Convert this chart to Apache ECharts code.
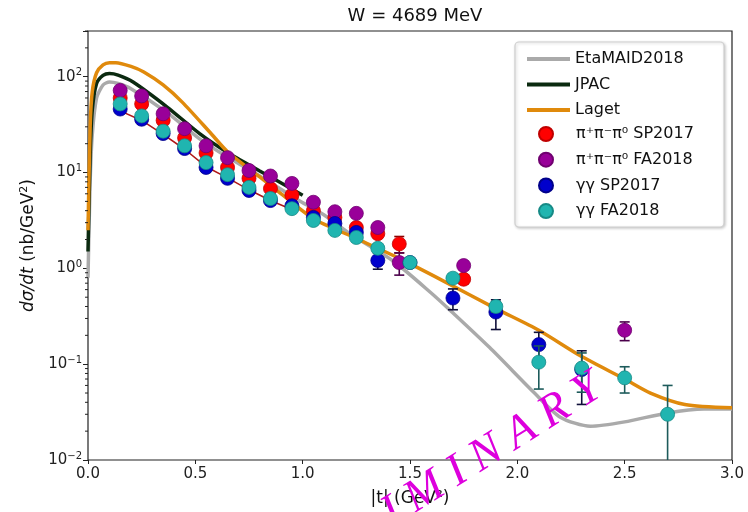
<!DOCTYPE html>
<html>
<head>
<meta charset="utf-8">
<script src="https://cdn.jsdelivr.net/npm/echarts@6/dist/echarts.min.js"></script>
<style>html,body{margin:0;padding:0;background:#fff}#chart{width:748px;height:512px}</style>
</head>
<body>
<div id="chart"></div>
<script>
// model curves
var maidT = [0, 0.01, 0.02, 0.04, 0.07, 0.1, 0.14, 0.2, 0.37, 0.52, 0.65, 0.8, 0.97, 1.1, 1.22, 1.42, 1.6, 1.69, 1.87, 2.08, 2.2, 2.34, 2.5, 2.7, 2.87, 3.0];
var maidV = [0.8, 8, 25, 60, 82, 88, 85, 75, 42, 22.5, 14.5, 9.2, 5.3, 3.6, 2.3, 1.2, 0.55, 0.36, 0.15, 0.05, 0.028, 0.0225, 0.025, 0.031, 0.034, 0.034];
var jpacT = [0, 0.01, 0.02, 0.04, 0.07, 0.1, 0.14, 0.21, 0.37, 0.52, 0.65, 0.8, 1.0];
var jpacV = [1.5, 15, 45, 85, 103, 108, 104, 88, 48, 25.5, 16.2, 10.4, 5.8];
var lagetT = [0, 0.01, 0.02, 0.04, 0.07, 0.1, 0.13, 0.2, 0.26, 0.35, 0.44, 0.57, 0.65, 0.8, 0.9, 1.05, 1.25, 1.45, 1.65, 1.9, 2.1, 2.3, 2.5, 2.62, 2.78, 3.0];
var lagetV = [2.5, 30, 70, 110, 133, 140, 140, 128, 112, 82, 54, 26, 16.5, 9, 6, 3.3, 2.05, 1.27, 0.75, 0.38, 0.226, 0.12, 0.07, 0.05, 0.038, 0.035];

// thin red line under the low points
var redLineT = [0.15, 0.25, 0.35, 0.45, 0.55, 0.65, 0.75, 0.85, 0.93];
var redLineV = [44, 35, 25, 17.5, 11.5, 8.8, 6.6, 5.1, 4.3];

// data points (t, value, error)
var piSPt = [0.15, 0.25, 0.35, 0.45, 0.55, 0.65, 0.75, 0.85, 0.95, 1.05, 1.15, 1.25, 1.35, 1.45, 1.75];
var piSPv = [60, 52, 35, 23, 16, 11.3, 8.7, 6.8, 5.8, 4.0, 3.4, 2.67, 2.3, 1.8, 0.77];
var piSPe = [3, 2.5, 1.8, 1.2, 0.8, 0.6, 0.45, 0.35, 0.3, 0.25, 0.22, 0.2, 0.2, 0.35, 0.08];

var piFAt = [0.15, 0.25, 0.35, 0.45, 0.55, 0.65, 0.75, 0.85, 0.95, 1.05, 1.15, 1.25, 1.35, 1.45, 1.75, 2.5];
var piFAv = [72, 63, 41, 28.7, 19, 14.3, 10.5, 9.2, 7.7, 4.9, 3.9, 3.75, 2.67, 1.15, 1.07, 0.226];
var piFAe = [3, 2.5, 1.8, 1.2, 0.9, 0.7, 0.5, 0.45, 0.4, 0.3, 0.25, 0.25, 0.2, 0.3, 0.1, 0.05];

var ggSPt = [0.15, 0.25, 0.35, 0.45, 0.55, 0.65, 0.75, 0.85, 0.95, 1.05, 1.15, 1.25, 1.35, 1.5, 1.7, 1.9, 2.1, 2.3];
var ggSPv = [46, 36, 25.5, 17.8, 11.3, 8.7, 6.5, 5.1, 4.5, 3.4, 2.94, 2.37, 1.21, 1.15, 0.49, 0.35, 0.16, 0.088];
var ggSPe = [2, 1.5, 1, 0.8, 0.6, 0.45, 0.35, 0.3, 0.3, 0.25, 0.22, 0.2, 0.23, 0.12, 0.12, 0.12, 0.055, 0.05];

var ggFAt = [0.15, 0.25, 0.35, 0.45, 0.55, 0.65, 0.75, 0.85, 0.95, 1.05, 1.15, 1.25, 1.35, 1.5, 1.7, 1.9, 2.1, 2.3, 2.5, 2.7];
var ggFAv = [52, 39, 27, 19, 12.7, 9.5, 7.0, 5.35, 4.2, 3.16, 2.49, 2.1, 1.62, 1.15, 0.79, 0.40, 0.105, 0.091, 0.072, 0.030];
var ggFAe = [2, 1.5, 1, 0.8, 0.6, 0.45, 0.35, 0.3, 0.25, 0.22, 0.2, 0.18, 0.15, 0.1, 0.08, 0.05, 0.05, 0.04, 0.022, 0.03];

function pairs(t, v) {
    return t.map(function (x, i) { return [x, v[i]]; });
}
function errData(t, v, e) {
    return t.map(function (x, i) { return [x, v[i] - e[i], v[i] + e[i]]; });
}
function errBars(color) {
    return function (params, api) {
        var lo = Math.max(api.value(1), 1e-4);
        var a = api.coord([api.value(0), lo]);
        var b = api.coord([api.value(0), api.value(2)]);
        var w = 5, st = {stroke: color, lineWidth: 1.6};
        return {type: 'group', children: [
            {type: 'line', shape: {x1: a[0], y1: a[1], x2: b[0], y2: b[1]}, style: st},
            {type: 'line', shape: {x1: a[0] - w, y1: a[1], x2: a[0] + w, y2: a[1]}, style: st},
            {type: 'line', shape: {x1: b[0] - w, y1: b[1], x2: b[0] + w, y2: b[1]}, style: st}
        ]};
    };
}

// log minor ticks 2..9 x 10^k
var minorVals = [];
for (var k = -2; k <= 2; k++) {
    for (var m = 2; m <= 9; m++) {
        if (m * Math.pow(10, k) <= 300) minorVals.push(m * Math.pow(10, k));
    }
}

var font = 'DejaVu Sans';
var chart = echarts.init(document.getElementById('chart'));

function lineSeries(name, t, v, color, z) {
    return {name: name, type: 'line', data: pairs(t, v), symbol: 'none', smooth: 0.25,
        lineStyle: {color: color, width: 3.5}, itemStyle: {color: color}, z: z, clip: true};
}
function pointSeries(name, t, v, color, edge, z) {
    return {name: name, type: 'scatter', data: pairs(t, v), symbol: 'circle', symbolSize: 14,
        itemStyle: {color: color, borderColor: edge, borderWidth: 0.8, opacity: 1}, z: z};
}
function errSeries(t, v, e, color, z) {
    return {type: 'custom', data: errData(t, v, e), renderItem: errBars(color), clip: true,
        encode: {x: 0, y: [1, 2]}, z: z, silent: true};
}

var supRich = {
    b: {fontSize: 15, fontFamily: font, color: '#222'},
    s: {fontSize: 10, fontFamily: font, color: '#222', padding: [0, 0, 8, 0]}
};

var option = {
    animation: false,
    backgroundColor: '#fff',
    title: {text: 'W = 4689 MeV', left: 410, top: 2, textAlign: 'center',
        textStyle: {fontFamily: font, fontSize: 18, fontWeight: 'normal', color: '#111'}},
    grid: {left: 88, right: 16, top: 31, bottom: 52, show: true, borderColor: '#222', borderWidth: 1.2},
    xAxis: {
        type: 'value', min: 0, max: 3, interval: 0.5,
        name: '|t| (GeV²)', nameLocation: 'middle', nameGap: 30,
        nameTextStyle: {fontFamily: font, fontSize: 17, color: '#111'},
        axisLine: {show: false},
        axisTick: {show: true, length: 4, lineStyle: {color: '#222'}},
        axisLabel: {fontFamily: font, fontSize: 15, color: '#222', margin: 7,
            formatter: function (v) { return v.toFixed(1); }},
        splitLine: {show: false}
    },
    yAxis: {
        type: 'log', logBase: 10, min: 0.01, max: 300,
        name: '{i|dσ/dt} (nb/GeV{s|2})', nameLocation: 'middle', nameGap: 48, nameRotate: 90,
        nameTextStyle: {fontFamily: font, fontSize: 17, color: '#111',
            rich: {i: {fontFamily: font, fontSize: 17, fontStyle: 'italic', color: '#111'},
                   s: {fontFamily: font, fontSize: 11, color: '#111', padding: [0, 0, 9, 0]}}},
        axisLine: {show: false},
        axisTick: {show: true, length: 5, lineStyle: {color: '#222'}},
        axisLabel: {margin: 6, rich: supRich, formatter: function (v) {
            var e = Math.log10(v);
            if (Math.abs(e - Math.round(e)) > 1e-6) return '';
            e = Math.round(e);
            return '{b|10}{s|' + (e < 0 ? '\u2212' + (-e) : e) + '}';
        }},
        splitLine: {show: false}
    },
    legend: [{
        z: 100, left: 522, top: 44, orient: 'vertical', itemWidth: 43, itemHeight: 4, itemGap: 5.5,
        icon: 'rect', data: ['EtaMAID2018', 'JPAC', 'Laget'],
        textStyle: {fontFamily: font, fontSize: 16, color: '#111', lineHeight: 20}
    }, {
        z: 100, left: 533, top: 119, orient: 'vertical', itemWidth: 14, itemHeight: 14, itemGap: 5.7,
        icon: 'circle',
        data: ['π⁺π⁻π⁰ SP2017', 'π⁺π⁻π⁰ FA2018', 'γγ SP2017', 'γγ FA2018'],
        textStyle: {fontFamily: font, fontSize: 16, color: '#111', lineHeight: 20, padding: [0, 0, 0, 18]}
    }],
    graphic: [{
        type: 'rect', z: 50, shape: {x: 515, y: 42, width: 209, height: 185, r: 4},
        style: {fill: '#ffffff', stroke: '#cfcfcf', lineWidth: 1.2,
            shadowBlur: 3, shadowColor: 'rgba(0,0,0,0.2)', shadowOffsetX: 1, shadowOffsetY: 1}
    }, {
        type: 'text', x: 598, y: 384, rotation: 0.56, z: 120,
        style: {text: 'P R E L I M I N A R Y', font: 'italic 46px "Liberation Serif"',
            fill: '#dd00dd', textAlign: 'right', textVerticalAlign: 'middle'}
    }],
    series: [
        lineSeries('EtaMAID2018', maidT, maidV, '#aaaaaa', 2),
        lineSeries('JPAC', jpacT, jpacV, '#0b2a10', 3),
        lineSeries('Laget', lagetT, lagetV, '#e08a0c', 4),
        {type: 'line', data: pairs(redLineT, redLineV), symbol: 'none', silent: true,
            lineStyle: {color: '#b01818', width: 1.6}, z: 5},
        errSeries(piSPt, piSPv, piSPe, '#8b0000', 6),
        pointSeries('π⁺π⁻π⁰ SP2017', piSPt, piSPv, '#ff0000', '#c00000', 7),
        errSeries(piFAt, piFAv, piFAe, '#4b004b', 8),
        pointSeries('π⁺π⁻π⁰ FA2018', piFAt, piFAv, '#990099', '#700070', 9),
        errSeries(ggSPt, ggSPv, ggSPe, '#10103a', 10),
        pointSeries('γγ SP2017', ggSPt, ggSPv, '#0000cc', '#00008a', 11),
        errSeries(ggFAt, ggFAv, ggFAe, '#1d5b5b', 12),
        pointSeries('γγ FA2018', ggFAt, ggFAv, '#20b5b0', '#168a86', 13),
        {type: 'custom', silent: true, clip: false, z: 14,
            data: minorVals.map(function (v) { return [0, v]; }),
            renderItem: function (params, api) {
                var p = api.coord([0, api.value(1)]);
                return {type: 'line', shape: {x1: p[0] - 3, y1: p[1], x2: p[0], y2: p[1]},
                    style: {stroke: '#222', lineWidth: 1}};
            }}
    ]
};
chart.setOption(option);
</script>
</body>
</html>
